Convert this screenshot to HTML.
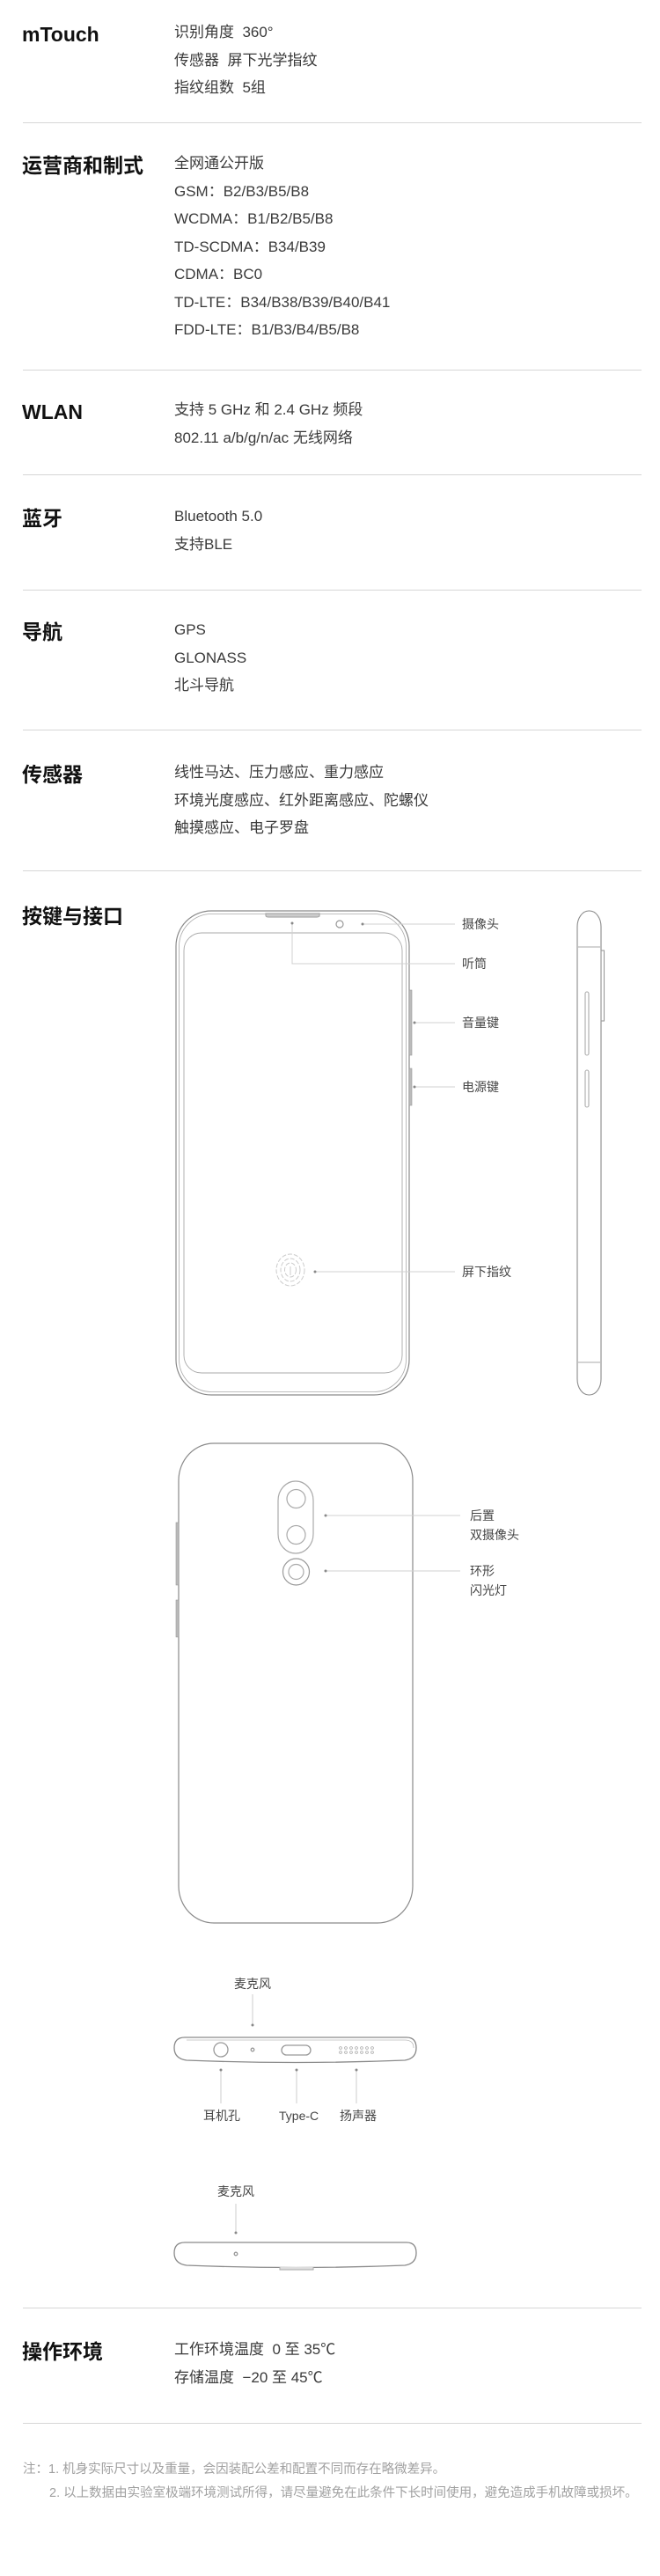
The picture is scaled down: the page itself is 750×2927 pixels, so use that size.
<!DOCTYPE html>
<html><head><meta charset="utf-8">
<style>
html,body{margin:0;padding:0;background:#fff;}
body{width:750px;height:2927px;position:relative;overflow:hidden;font-family:"Liberation Sans","Noto Sans CJK SC",sans-serif;}
.t{position:absolute;left:25px;font-size:23px;font-weight:bold;color:#111;line-height:30px;white-space:nowrap;}
.c{position:absolute;left:198px;font-size:17px;color:#3a3a3a;line-height:31.5px;white-space:nowrap;}
.hr{position:absolute;left:26px;width:703px;height:1px;background:#d6d6d6;}
.lb{position:absolute;font-size:14px;color:#444;line-height:22px;white-space:nowrap;}
.n{position:absolute;left:26px;font-size:14.5px;color:#a0a0a0;line-height:27px;white-space:nowrap;}
</style></head><body>

<div class="t" style="top:24px">mTouch</div>
<div class="c" style="top:21px">识别角度&nbsp; 360°<br>传感器&nbsp; 屏下光学指纹<br>指纹组数&nbsp; 5组</div>
<div class="hr" style="top:139px"></div>

<div class="t" style="top:173px">运营商和制式</div>
<div class="c" style="top:170px">全网通公开版<br>GSM：B2/B3/B5/B8<br>WCDMA：B1/B2/B5/B8<br>TD-SCDMA：B34/B39<br>CDMA：BC0<br>TD-LTE：B34/B38/B39/B40/B41<br>FDD-LTE：B1/B3/B4/B5/B8</div>
<div class="hr" style="top:420px"></div>

<div class="t" style="top:453px">WLAN</div>
<div class="c" style="top:450px">支持 5 GHz 和 2.4 GHz 频段<br>802.11 a/b/g/n/ac 无线网络</div>
<div class="hr" style="top:539px"></div>

<div class="t" style="top:574px">蓝牙</div>
<div class="c" style="top:571px">Bluetooth 5.0<br>支持BLE</div>
<div class="hr" style="top:670px"></div>

<div class="t" style="top:703px">导航</div>
<div class="c" style="top:700px">GPS<br>GLONASS<br>北斗导航</div>
<div class="hr" style="top:829px"></div>

<div class="t" style="top:865px">传感器</div>
<div class="c" style="top:862px">线性马达、压力感应、重力感应<br>环境光度感应、红外距离感应、陀螺仪<br>触摸感应、电子罗盘</div>
<div class="hr" style="top:989px"></div>

<div class="t" style="top:1026px">按键与接口</div>

<svg style="position:absolute;left:0;top:0" width="750" height="2927" xmlns="http://www.w3.org/2000/svg">
<g fill="none" stroke="#8a8a8a" stroke-width="1.2">
 <rect x="200" y="1035" width="265" height="550" rx="40" ry="40"/>
 <rect x="203.5" y="1038.5" width="258" height="543" rx="37" ry="37" stroke="#aaa" stroke-width="0.8"/>
 <rect x="209" y="1060" width="248" height="500" rx="20" ry="20" stroke="#aaa" stroke-width="0.9"/>
 <path d="M302,1038 H363 V1041 Q362,1042 360,1042 H305 Q302,1042 302,1040Z" fill="#ccc" stroke="#aaa"/>
 <circle cx="386" cy="1050" r="4" stroke="#999"/>
 <rect x="465" y="1125" width="3" height="74" fill="#bbb" stroke="#999" stroke-width="0.6"/>
 <rect x="465" y="1214" width="3" height="42" fill="#bbb" stroke="#999" stroke-width="0.6"/>
</g>
<g fill="none" stroke="#ccc" stroke-width="1" stroke-dasharray="5 2">
 <ellipse cx="330" cy="1443" rx="16" ry="18"/>
 <ellipse cx="330" cy="1443" rx="11" ry="13"/>
 <ellipse cx="330" cy="1443" rx="6.5" ry="8"/>
 <path d="M330,1449 V1439" stroke-dasharray="none"/>
</g>
<g stroke="#d0d0d0" stroke-width="1" fill="none">
 <line x1="412" y1="1050" x2="517" y2="1050"/>
 <polyline points="332,1049 332,1095 517,1095"/>
 <line x1="471" y1="1162" x2="517" y2="1162"/>
 <line x1="471" y1="1235" x2="517" y2="1235"/>
 <line x1="358" y1="1445" x2="517" y2="1445"/>
</g>
<g fill="#888">
 <circle cx="412" cy="1050" r="1.5"/><circle cx="332" cy="1049" r="1.5"/>
 <circle cx="471" cy="1162" r="1.5"/><circle cx="471" cy="1235" r="1.5"/>
 <circle cx="358" cy="1445" r="1.5"/>
</g>
<g fill="none" stroke="#8a8a8a" stroke-width="1.1">
 <rect x="656" y="1035" width="27" height="550" rx="13" ry="18"/>
 <line x1="657" y1="1076" x2="682" y2="1076" stroke="#aaa"/>
 <line x1="657" y1="1548" x2="682" y2="1548" stroke="#aaa"/>
 <rect x="683" y="1080" width="3.5" height="80" stroke="#999"/>
 <rect x="665" y="1127" width="4" height="72" rx="2" stroke="#aaa"/>
 <rect x="665" y="1216" width="4" height="42" rx="2" stroke="#aaa"/>
</g>
<g fill="none" stroke="#8a8a8a" stroke-width="1.2">
 <rect x="203" y="1640" width="266" height="545" rx="40" ry="42"/>
 <rect x="316" y="1683" width="40" height="82" rx="20" ry="22" stroke="#aaa"/>
 <circle cx="336.5" cy="1703" r="10.5" stroke="#aaa"/>
 <circle cx="336.5" cy="1744" r="10.5" stroke="#aaa"/>
 <circle cx="336.5" cy="1786" r="15" stroke="#999"/>
 <circle cx="336.5" cy="1786" r="8.5" stroke="#aaa"/>
 <rect x="200" y="1730" width="3" height="71" fill="#bbb" stroke="#999" stroke-width="0.6"/>
 <rect x="200" y="1818" width="3" height="42" fill="#bbb" stroke="#999" stroke-width="0.6"/>
</g>
<g stroke="#d0d0d0" stroke-width="1">
 <line x1="370" y1="1722" x2="523" y2="1722"/>
 <line x1="370" y1="1785" x2="523" y2="1785"/>
</g>
<g fill="#888"><circle cx="370" cy="1722" r="1.5"/><circle cx="370" cy="1785" r="1.5"/></g>
<g fill="none" stroke="#8a8a8a" stroke-width="1.3">
 <path d="M210,2315 H462 Q473,2315 473,2327 Q473,2339 460,2341 Q336,2346 212,2341 Q198,2339 198,2327 Q198,2315 210,2315Z"/>
 <path d="M212,2318 H460 Q470,2318 470,2327" stroke="#bbb" stroke-width="0.8"/>
 <circle cx="251" cy="2329" r="8" stroke="#999"/>
 <circle cx="287" cy="2329" r="1.8" stroke="#999"/>
 <rect x="320" y="2324" width="33" height="11" rx="5.5" stroke="#999"/>
</g>
<g fill="none" stroke="#aaa" stroke-width="0.8">
 <circle cx="387" cy="2327" r="1.4"/><circle cx="393" cy="2327" r="1.4"/><circle cx="399" cy="2327" r="1.4"/><circle cx="405" cy="2327" r="1.4"/><circle cx="411" cy="2327" r="1.4"/><circle cx="417" cy="2327" r="1.4"/><circle cx="423" cy="2327" r="1.4"/>
 <circle cx="387" cy="2332" r="1.4"/><circle cx="393" cy="2332" r="1.4"/><circle cx="399" cy="2332" r="1.4"/><circle cx="405" cy="2332" r="1.4"/><circle cx="411" cy="2332" r="1.4"/><circle cx="417" cy="2332" r="1.4"/><circle cx="423" cy="2332" r="1.4"/>
</g>
<g stroke="#ccc" stroke-width="1">
 <line x1="287" y1="2266" x2="287" y2="2301"/>
 <line x1="251" y1="2352" x2="251" y2="2390"/>
 <line x1="337" y1="2352" x2="337" y2="2390"/>
 <line x1="405" y1="2352" x2="405" y2="2390"/>
 <line x1="268" y1="2504" x2="268" y2="2537"/>
</g>
<g fill="#888">
 <circle cx="287" cy="2301" r="1.5"/><circle cx="251" cy="2352" r="1.5"/><circle cx="337" cy="2352" r="1.5"/><circle cx="405" cy="2352" r="1.5"/><circle cx="268" cy="2537" r="1.5"/>
</g>
<g fill="none" stroke="#8a8a8a" stroke-width="1.3">
 <path d="M210,2548 H462 Q473,2548 473,2560 Q473,2572 460,2574 Q336,2579 212,2574 Q198,2572 198,2560 Q198,2548 210,2548Z"/>
 <path d="M318,2576 V2579 H356 V2576" fill="#ddd" stroke="#aaa" stroke-width="1"/>
 <circle cx="268" cy="2561" r="1.8" stroke="#999"/>
</g>
</svg>

<div class="lb" style="left:525px;top:1039px">摄像头</div>
<div class="lb" style="left:525px;top:1084px">听筒</div>
<div class="lb" style="left:525px;top:1151px">音量键</div>
<div class="lb" style="left:525px;top:1224px">电源键</div>
<div class="lb" style="left:525px;top:1434px">屏下指纹</div>
<div class="lb" style="left:534px;top:1711px">后置<br>双摄像头</div>
<div class="lb" style="left:534px;top:1774px">环形<br>闪光灯</div>
<div class="lb" style="left:266px;top:2243px">麦克风</div>
<div class="lb" style="left:231px;top:2393px">耳机孔</div>
<div class="lb" style="left:317px;top:2393px">Type-C</div>
<div class="lb" style="left:386px;top:2393px">扬声器</div>
<div class="lb" style="left:247px;top:2479px">麦克风</div>

<div class="hr" style="top:2622px"></div>
<div class="t" style="top:2657px">操作环境</div>
<div class="c" style="top:2654px">工作环境温度&nbsp; 0 至 35℃<br>存储温度&nbsp; −20 至 45℃</div>
<div class="hr" style="top:2753px"></div>

<div class="n" style="top:2793px">注：1. 机身实际尺寸以及重量，会因装配公差和配置不同而存在略微差异。</div>
<div class="n" style="top:2820px;left:56px">2. 以上数据由实验室极端环境测试所得，请尽量避免在此条件下长时间使用，避免造成手机故障或损坏。</div>
</body></html>
